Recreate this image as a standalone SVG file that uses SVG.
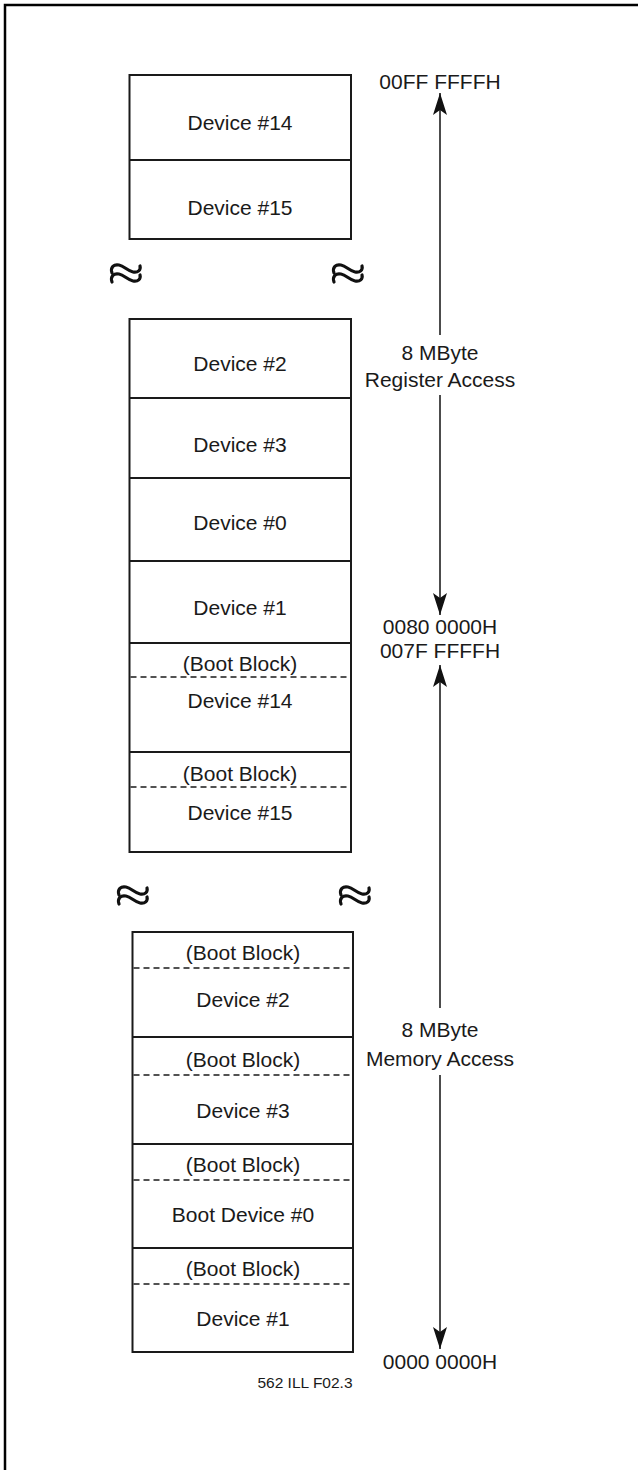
<svg xmlns="http://www.w3.org/2000/svg" width="638" height="1470" viewBox="0 0 638 1470">
<style>
.box{fill:#fff;stroke:#1a1a1a;stroke-width:2}
.sep{stroke:#1a1a1a;stroke-width:2}
.dash{stroke:#1a1a1a;stroke-width:1.5;stroke-dasharray:6 4}
.t{font-family:"Liberation Sans",Arial,sans-serif;font-size:21px;fill:#1a1a1a;text-anchor:middle}
.lbl{font-family:"Liberation Sans",Arial,sans-serif;font-size:15.5px;fill:#1a1a1a;text-anchor:middle}
.brk{fill:none;stroke:#111;stroke-width:3.2;stroke-linecap:round}
.arr{stroke:#111;stroke-width:1.5;fill:none}
.frame{fill:none;stroke:#000;stroke-width:2.5}
</style>
<defs>
<marker id="ah" viewBox="0 0 22 14" refX="22" refY="7" markerWidth="22" markerHeight="14" markerUnits="userSpaceOnUse" orient="auto-start-reverse">
<path d="M0,0 L22,7 L0,14 L5,7 Z" fill="#111"/>
</marker>
<g id="brkSym">
<path class="brk" d="M2,10 C0,4 4,1 9,2 C14,3 18,8 23,9 C28,10 31,7 30,3"/>
<path class="brk" d="M2,19 C0,13 4,10 9,11 C14,12 18,17 23,18 C28,19 31,16 30,12"/>
</g>
</defs>
<rect class="frame" x="5" y="5" width="900" height="1600"/>

<g id="top-block">
<rect class="box" x="129.5" y="75" width="221.5" height="164"/>
<line class="sep" x1="129.5" y1="160" x2="351" y2="160"/>
<g id="top-dev14"><text class="t" x="240" y="129.5">Device #14</text></g>
<g id="top-dev15"><text class="t" x="240" y="214.5">Device #15</text></g>
</g>

<g id="break-1">
<use href="#brkSym" x="110" y="263"/>
<use href="#brkSym" x="332" y="263"/>
</g>

<g id="register-block">
<rect class="box" x="129.5" y="319" width="221.5" height="533"/>
<line class="sep" x1="129.5" y1="398" x2="351" y2="398"/>
<line class="sep" x1="129.5" y1="478" x2="351" y2="478"/>
<line class="sep" x1="129.5" y1="561" x2="351" y2="561"/>
<line class="sep" x1="129.5" y1="643" x2="351" y2="643"/>
<line class="sep" x1="129.5" y1="752" x2="351" y2="752"/>
<g id="reg-dev2"><text class="t" x="240" y="370.5">Device #2</text></g>
<g id="reg-dev3"><text class="t" x="240" y="451.5">Device #3</text></g>
<g id="reg-dev0"><text class="t" x="240" y="529.5">Device #0</text></g>
<g id="reg-dev1"><text class="t" x="240" y="614.5">Device #1</text></g>
<g id="reg-dev14">
<text class="t" x="240" y="670.5">(Boot Block)</text>
<line class="dash" x1="130.5" y1="677" x2="350" y2="677"/>
<text class="t" x="240" y="707.5">Device #14</text>
</g>
<g id="reg-dev15">
<text class="t" x="240" y="780.5">(Boot Block)</text>
<line class="dash" x1="130.5" y1="787" x2="350" y2="787"/>
<text class="t" x="240" y="819.5">Device #15</text>
</g>
</g>

<g id="break-2">
<use href="#brkSym" x="117" y="885"/>
<use href="#brkSym" x="339" y="885"/>
</g>

<g id="memory-block">
<rect class="box" x="132.5" y="932" width="220.5" height="420"/>
<line class="sep" x1="132.5" y1="1037" x2="353" y2="1037"/>
<line class="sep" x1="132.5" y1="1144" x2="353" y2="1144"/>
<line class="sep" x1="132.5" y1="1248" x2="353" y2="1248"/>
<g id="mem-dev2">
<text class="t" x="243" y="959.5">(Boot Block)</text>
<line class="dash" x1="133.5" y1="968" x2="352" y2="968"/>
<text class="t" x="243" y="1006.5">Device #2</text>
</g>
<g id="mem-dev3">
<text class="t" x="243" y="1066.5">(Boot Block)</text>
<line class="dash" x1="133.5" y1="1075" x2="352" y2="1075"/>
<text class="t" x="243" y="1117.5">Device #3</text>
</g>
<g id="mem-dev0">
<text class="t" x="243" y="1171.5">(Boot Block)</text>
<line class="dash" x1="133.5" y1="1180" x2="352" y2="1180"/>
<text class="t" x="243" y="1221.5">Boot Device #0</text>
</g>
<g id="mem-dev1">
<text class="t" x="243" y="1275.5">(Boot Block)</text>
<line class="dash" x1="133.5" y1="1284" x2="352" y2="1284"/>
<text class="t" x="243" y="1325.5">Device #1</text>
</g>
</g>

<g id="connectors">
<line class="arr" x1="440" y1="93" x2="440" y2="335" marker-start="url(#ah)"/>
<line class="arr" x1="440" y1="395" x2="440" y2="615" marker-end="url(#ah)"/>
<line class="arr" x1="440" y1="665" x2="440" y2="1008" marker-start="url(#ah)"/>
<line class="arr" x1="440" y1="1075" x2="440" y2="1349" marker-end="url(#ah)"/>
</g>

<g id="addr-labels">
<text class="t" x="440" y="89">00FF FFFFH</text>
<text class="t" x="440" y="360">8 MByte</text>
<text class="t" x="440" y="387">Register Access</text>
<text class="t" x="440" y="634">0080 0000H</text>
<text class="t" x="440" y="658">007F FFFFH</text>
<text class="t" x="440" y="1037">8 MByte</text>
<text class="t" x="440" y="1066">Memory Access</text>
<text class="t" x="440" y="1369">0000 0000H</text>
</g>

<g id="caption">
<text class="lbl" x="305" y="1388">562 ILL F02.3</text>
</g>
</svg>
